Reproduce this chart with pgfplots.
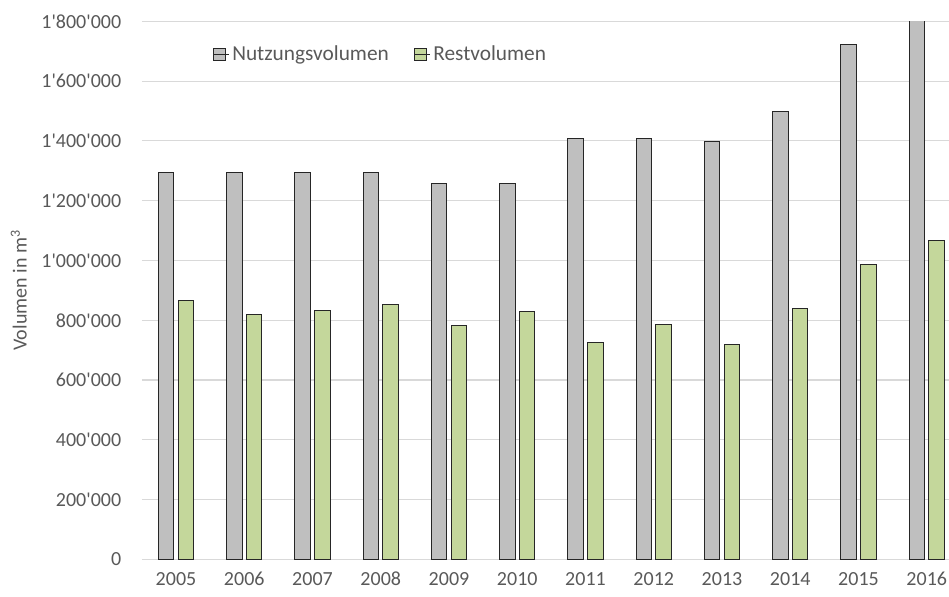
\documentclass[border=0pt]{standalone}
\usepackage{pgfplots}
\pgfplotsset{compat=1.18}
\usepackage{fontspec}
\setmainfont{Carlito}
\definecolor{txt}{HTML}{595959}
\definecolor{gridc}{HTML}{D9D9D9}
\definecolor{greyb}{HTML}{BFBFBF}
\definecolor{greenb}{HTML}{C4D79B}
\begin{document}
\begin{tikzpicture}
\useasboundingbox (-106.4pt,-27.5pt) rectangle (605.3pt,419.5pt);
\begin{axis}[
  at={(0,0)}, anchor=south west,
  scale only axis,
  width=605.3pt, height=403.5pt,
  xmin=-0.5, xmax=11.326,
  ymin=0, ymax=1800000,
  ytick={0,200000,...,1800000},
  xtick={0,...,11},
  xticklabels={2005,2006,2007,2008,2009,2010,2011,2012,2013,2014,2015,2016},
  axis line style={draw=none},
  major tick length=0pt,
  ymajorgrids,
  grid style={gridc, line width=0.9pt},
  tick label style={font=\fontsize{15}{18}\selectfont, text=txt},
  yticklabel style={xshift=-12pt},
  xticklabel style={yshift=-6pt},
  /pgf/number format/assume math mode=true,
  /pgf/number format/.cd, fixed, precision=0, 1000 sep={\textquotesingle},
  /pgfplots/.cd,
  scaled y ticks=false,
  ylabel={Volumen in m\textsuperscript{3}},
  ylabel style={font=\fontsize{15}{18}\selectfont, text=txt, at={(ticklabel cs:0.5)}, anchor=south, xshift=0pt},
  ylabel shift=4pt,
  ybar, bar width=11.5pt,
  legend columns=2,
  legend style={at={(0.083,0.965)}, anchor=north west, draw=none, fill=none,
    font=\fontsize{16}{19}\selectfont, text=txt,
    /tikz/every even column/.append style={column sep=17pt}},
  legend image code/.code={\draw[#1, line width=0.75pt] (0pt,-4.6pt) rectangle (9.2pt,4.6pt); \path (0pt,0pt) -- (11.6pt,0pt);},
  clip=true,
]
\addplot[bar shift=-7.4pt, fill=greyb, draw=black!85, line width=0.75pt] coordinates {
(0,1293000) (1,1293000) (2,1293000) (3,1293000) (4,1258000) (5,1258000)
(6,1408000) (7,1408000) (8,1398000) (9,1499000) (10,1724000) (11,1850000)};
\addlegendentry{Nutzungsvolumen}
\addplot[bar shift=7.4pt, fill=greenb, draw=black!85, line width=0.75pt] coordinates {
(0,866000) (1,820000) (2,832000) (3,852000) (4,782000) (5,828000)
(6,726000) (7,785000) (8,719000) (9,840000) (10,988000) (11,1067000)};
\addlegendentry{Restvolumen}
\end{axis}
\end{tikzpicture}
\end{document}
